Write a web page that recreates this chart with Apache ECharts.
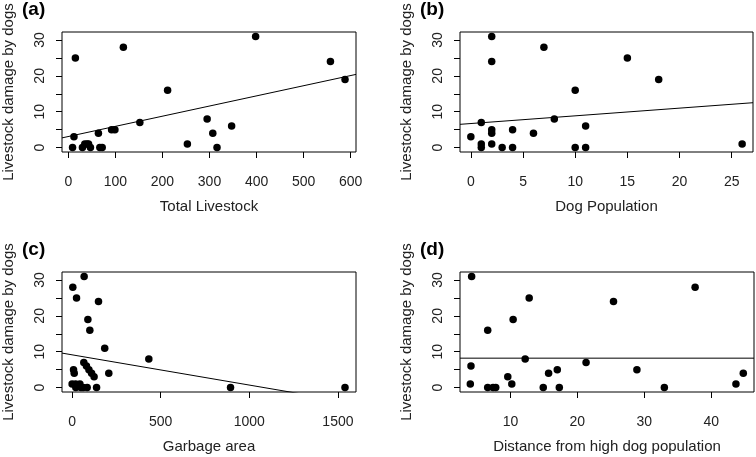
<!DOCTYPE html>
<html><head><meta charset="utf-8">
<script src="https://cdn.jsdelivr.net/npm/echarts@6/dist/echarts.min.js"></script>
<style>html,body{margin:0;padding:0;background:#fff}#c{width:756px;height:457px}</style>
</head><body><div id="c"></div>
<script>
// ---- data ----
const yName = 'Livestock damage by dogs';
const panelLabels = ['(a)', '(b)', '(c)', '(d)'];
const xNames = ['Total Livestock', 'Dog Population', 'Garbage area', 'Distance from high dog population'];

const livestockX = [15, 117, 211, 152, 92, 99, 64, 12, 9, 30, 35, 40, 43, 47, 67, 72, 253, 398, 557, 588, 295, 347, 307, 316];
const livestockY = [25, 28, 16, 7, 5, 5, 4, 3, 0, 0, 1, 1, 1, 0, 0, 0, 1, 31, 24, 19, 8, 6, 4, 0];

const dogX = [2, 2, 7, 1, 8, 0, 2, 2, 4, 6, 1, 1, 2, 3, 4, 15, 18, 10, 11, 10, 11, 26];
const dogY = [31, 24, 28, 7, 8, 3, 5, 4, 5, 4, 0, 1, 1, 0, 0, 25, 19, 16, 6, 0, 0, 1];

const garbageX = [68, 4, 25, 149, 89, 100, 184, 433, 66, 81, 95, 110, 124, 207, 8, 12, 0, 20, 44, 21, 50, 62, 85, 138, 894, 1540];
const garbageY = [31, 28, 25, 24, 19, 16, 11, 8, 7, 6, 5, 4, 3, 4, 5, 4, 1, 1, 1, 0, 0, 0, 0, 0, 0, 0];

const distX = [4.2, 4.1, 4.0, 6.6, 6.6, 7.4, 7.8, 9.6, 10.2, 10.4, 12.8, 12.2, 14.9, 15.7, 17.0, 17.3, 25.4, 37.6, 21.3, 28.9, 33.0, 43.7, 44.8];
const distY = [31, 6, 1, 16, 0, 0, 0, 3, 1, 19, 25, 8, 0, 4, 5, 0, 24, 28, 7, 5, 0, 1, 4];

const yTicks = [0, 5, 10, 15, 20, 25, 30];
const yTickLabels = [0, 10, 20, 30];
const xTicksA = [0, 100, 200, 300, 400, 500, 600];
const xTicksB = [0, 5, 10, 15, 20, 25];
const xTicksC = [0, 500, 1000, 1500];
const xTicksD = [10, 20, 30, 40];

const fitIntercept = [3.08, 6.7, 9.13, 8.2];
const fitSlope = [0.02835, 0.215, -0.008436, 0];

// ---- layout / styling ----
const xRanges = [[-13.4, 611.3], [-1.04, 27.04], [-57, 1602], [2.46, 46.4]];
const yRange = [-1.24, 32.24];
const grids = [
  { left: 62, top: 32, width: 294, height: 120 },
  { left: 460, top: 32, width: 293, height: 120 },
  { left: 62, top: 272, width: 294, height: 120 },
  { left: 460, top: 272, width: 294, height: 120 }
];
const xs = [livestockX, dogX, garbageX, distX];
const ys = [livestockY, dogY, garbageY, distY];
const xTicks = [xTicksA, xTicksB, xTicksC, xTicksD];
const FONT = 'Liberation Sans, Arial, sans-serif';
const plain = v => String(v);

const option = {
  animation: false,
  backgroundColor: '#fff',
  title: panelLabels.map((t, i) => ({
    text: t, left: grids[i].left - 40, top: grids[i].top - 32, padding: 0,
    textStyle: { fontFamily: FONT, fontWeight: 'bold', fontSize: 19, color: '#000' }
  })),
  grid: grids.map(g => Object.assign({
    show: true, borderColor: '#000', borderWidth: 1, backgroundColor: 'transparent',
    containLabel: false, outerBoundsMode: 'none'
  }, g)),
  xAxis: grids.map((g, i) => ({
    type: 'value', gridIndex: i, min: xRanges[i][0], max: xRanges[i][1],
    name: xNames[i], nameLocation: 'middle', nameGap: 47,
    nameTextStyle: { fontFamily: FONT, fontSize: 15, color: '#222' },
    axisLine: { show: false, onZero: false },
    splitLine: { show: false },
    axisTick: { show: true, inside: false, length: 6, customValues: xTicks[i], lineStyle: { color: '#000', width: 1 } },
    axisLabel: { show: true, customValues: xTicks[i], formatter: plain, margin: 23, fontFamily: FONT, fontSize: 14, color: '#222' }
  })),
  yAxis: grids.map((g, i) => ({
    type: 'value', gridIndex: i, min: yRange[0], max: yRange[1],
    name: yName, nameLocation: 'middle', nameGap: 46,
    nameTextStyle: { fontFamily: FONT, fontSize: 15, color: '#222' },
    axisLine: { show: false, onZero: false },
    splitLine: { show: false },
    axisTick: { show: true, inside: false, length: 6, customValues: yTicks, lineStyle: { color: '#000', width: 1 } },
    axisLabel: { show: true, customValues: yTickLabels, formatter: plain, rotate: 90, margin: 15, fontFamily: FONT, fontSize: 14, color: '#222' }
  })),
  series: []
};

for (let i = 0; i < 4; i++) {
  option.series.push({
    type: 'scatter', xAxisIndex: i, yAxisIndex: i,
    data: xs[i].map((x, k) => [x, ys[i][k]]),
    symbol: 'circle', symbolSize: 7.5,
    itemStyle: { color: '#000', opacity: 1 }, silent: true
  });
  const x0 = xRanges[i][0], x1 = xRanges[i][1];
  option.series.push({
    type: 'line', xAxisIndex: i, yAxisIndex: i, clip: true,
    data: [[x0, fitIntercept[i] + fitSlope[i] * x0], [x1, fitIntercept[i] + fitSlope[i] * x1]],
    showSymbol: false, symbol: 'none',
    lineStyle: { color: '#000', width: 1 }, silent: true
  });
}

const chart = echarts.init(document.getElementById('c'), null, { renderer: 'canvas' });
chart.setOption(option);
</script>
</body></html>
